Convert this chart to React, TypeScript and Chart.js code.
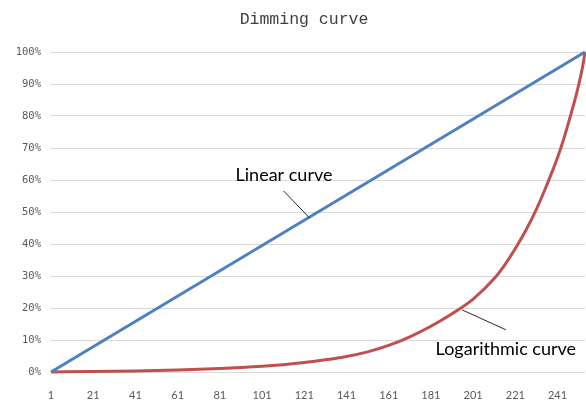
import React, { useEffect, useRef } from "react";
import { Chart, registerables } from "chart.js";

Chart.register(...registerables);

// ---- data ----
const TITLE = "Dimming curve";
const xTickValues = [1, 21, 41, 61, 81, 101, 121, 141, 161, 181, 201, 221, 241];
const yTickValues = [0, 10, 20, 30, 40, 50, 60, 70, 80, 90, 100];

const linearX = [1, 254];
const linearY = [0, 100];

const logX = [1, 21, 41, 61, 81, 101, 111, 121, 131, 141, 151, 161, 171, 181, 191, 201, 211, 216, 221, 226, 231, 236, 241, 244, 247, 250, 252, 253, 254];
const logY = [0, 0.15, 0.35, 0.65, 1.1, 1.8, 2.3, 2.95, 3.8, 4.85, 6.3, 8.3, 11.0, 14.3, 18.2, 22.8, 29.2, 33.5, 38.6, 44.3, 50.9, 58.6, 67.0, 73.0, 79.8, 87.0, 92.6, 95.9, 100];

// annotations (data coordinates): [textX, textY, lineFromX, lineFromY, lineToX, lineToY]
const linearLabel = "Linear curve";
const linearAnno = [111.4, 61.5, 111.2, 56.6, 123.4, 48.2];
const logLabel = "Logarithmic curve";
const logAnno = [216.5, 7.0, 195.8, 19.4, 216.5, 13.2];

const BLUE = "#4F81BD";
const RED = "#C0504D";

export default function App() {
  const ref = useRef<HTMLCanvasElement | null>(null);

  useEffect(() => {
    document.body.style.margin = "0";
    const canvas = ref.current;
    if (!canvas) return;

    const annoPlugin = {
      id: "annotations",
      afterDatasetsDraw(chart: any) {
        const ctx = chart.ctx;
        const xs = chart.scales.x;
        const ys = chart.scales.y;
        const draw = (label: string, a: number[], size: number) => {
          ctx.save();
          ctx.strokeStyle = "#262626";
          ctx.lineWidth = 1;
          ctx.beginPath();
          ctx.moveTo(xs.getPixelForValue(a[2]), ys.getPixelForValue(a[3]));
          ctx.lineTo(xs.getPixelForValue(a[4]), ys.getPixelForValue(a[5]));
          ctx.stroke();
          ctx.fillStyle = "#000000";
          ctx.font = `${size}px Lato, "Open Sans", sans-serif`;
          ctx.textAlign = "center";
          ctx.textBaseline = "middle";
          ctx.fillText(label, xs.getPixelForValue(a[0]), ys.getPixelForValue(a[1]));
          ctx.restore();
        };
        draw(linearLabel, linearAnno, 18);
        draw(logLabel, logAnno, 18);
      },
      afterDraw(chart: any) {
        const ctx = chart.ctx;
        ctx.save();
        ctx.fillStyle = "#404040";
        ctx.font = `16.5px "Liberation Mono", "DejaVu Sans Mono", monospace`;
        ctx.textAlign = "center";
        ctx.textBaseline = "middle";
        ctx.fillText(TITLE, 304, 20);
        ctx.restore();
      },
    };

    const chart = new Chart(canvas, {
      type: "line",
      data: {
        datasets: [
          {
            label: linearLabel,
            data: linearX.map((x, i) => ({ x, y: linearY[i] })),
            borderColor: BLUE,
            backgroundColor: BLUE,
            borderWidth: 3,
            pointRadius: 0,
            clip: false as any,
          },
          {
            label: logLabel,
            data: logX.map((x, i) => ({ x, y: logY[i] })),
            borderColor: RED,
            backgroundColor: RED,
            borderWidth: 3,
            pointRadius: 0,
            cubicInterpolationMode: "monotone",
            clip: false as any,
          },
        ],
      },
      options: {
        responsive: false,
        animation: false,
        events: [],
        layout: { padding: { top: 52, right: 1, left: 0, bottom: 0 } },
        plugins: {
          legend: { display: false },
          title: { display: false },
          tooltip: { enabled: false },
        },
        scales: {
          x: {
            type: "linear",
            min: 1,
            max: 254,
            grid: { display: false },
            border: { display: false },
            afterBuildTicks: (scale: any) => {
              scale.ticks = xTickValues.map((v) => ({ value: v }));
            },
            afterFit: (scale: any) => {
              scale.height = 31;
            },
            ticks: {
              autoSkip: false,
              maxRotation: 0,
              padding: 9,
              color: "#595959",
              font: { family: "Lato, 'Open Sans', sans-serif", size: 11 },
              callback: (v: any) => String(v),
            },
          },
          y: {
            type: "linear",
            min: 0,
            max: 100,
            grid: { color: "#d9d9d9", drawTicks: false, lineWidth: 1 },
            border: { display: false },
            afterBuildTicks: (scale: any) => {
              scale.ticks = yTickValues.map((v) => ({ value: v }));
            },
            afterFit: (scale: any) => {
              scale.width = 51;
            },
            ticks: {
              padding: 10,
              color: "#595959",
              font: { family: "'DejaVu Sans Mono', monospace", size: 10.5 },
              callback: (v: any) => v + "%",
            },
          },
        },
      },
      plugins: [annoPlugin],
    });

    return () => chart.destroy();
  }, []);

  return (
    <div style={{ position: "relative", width: 586, height: 403 }}>
      <canvas ref={ref} width={586} height={403} style={{ display: "block" }} />
    </div>
  );
}
